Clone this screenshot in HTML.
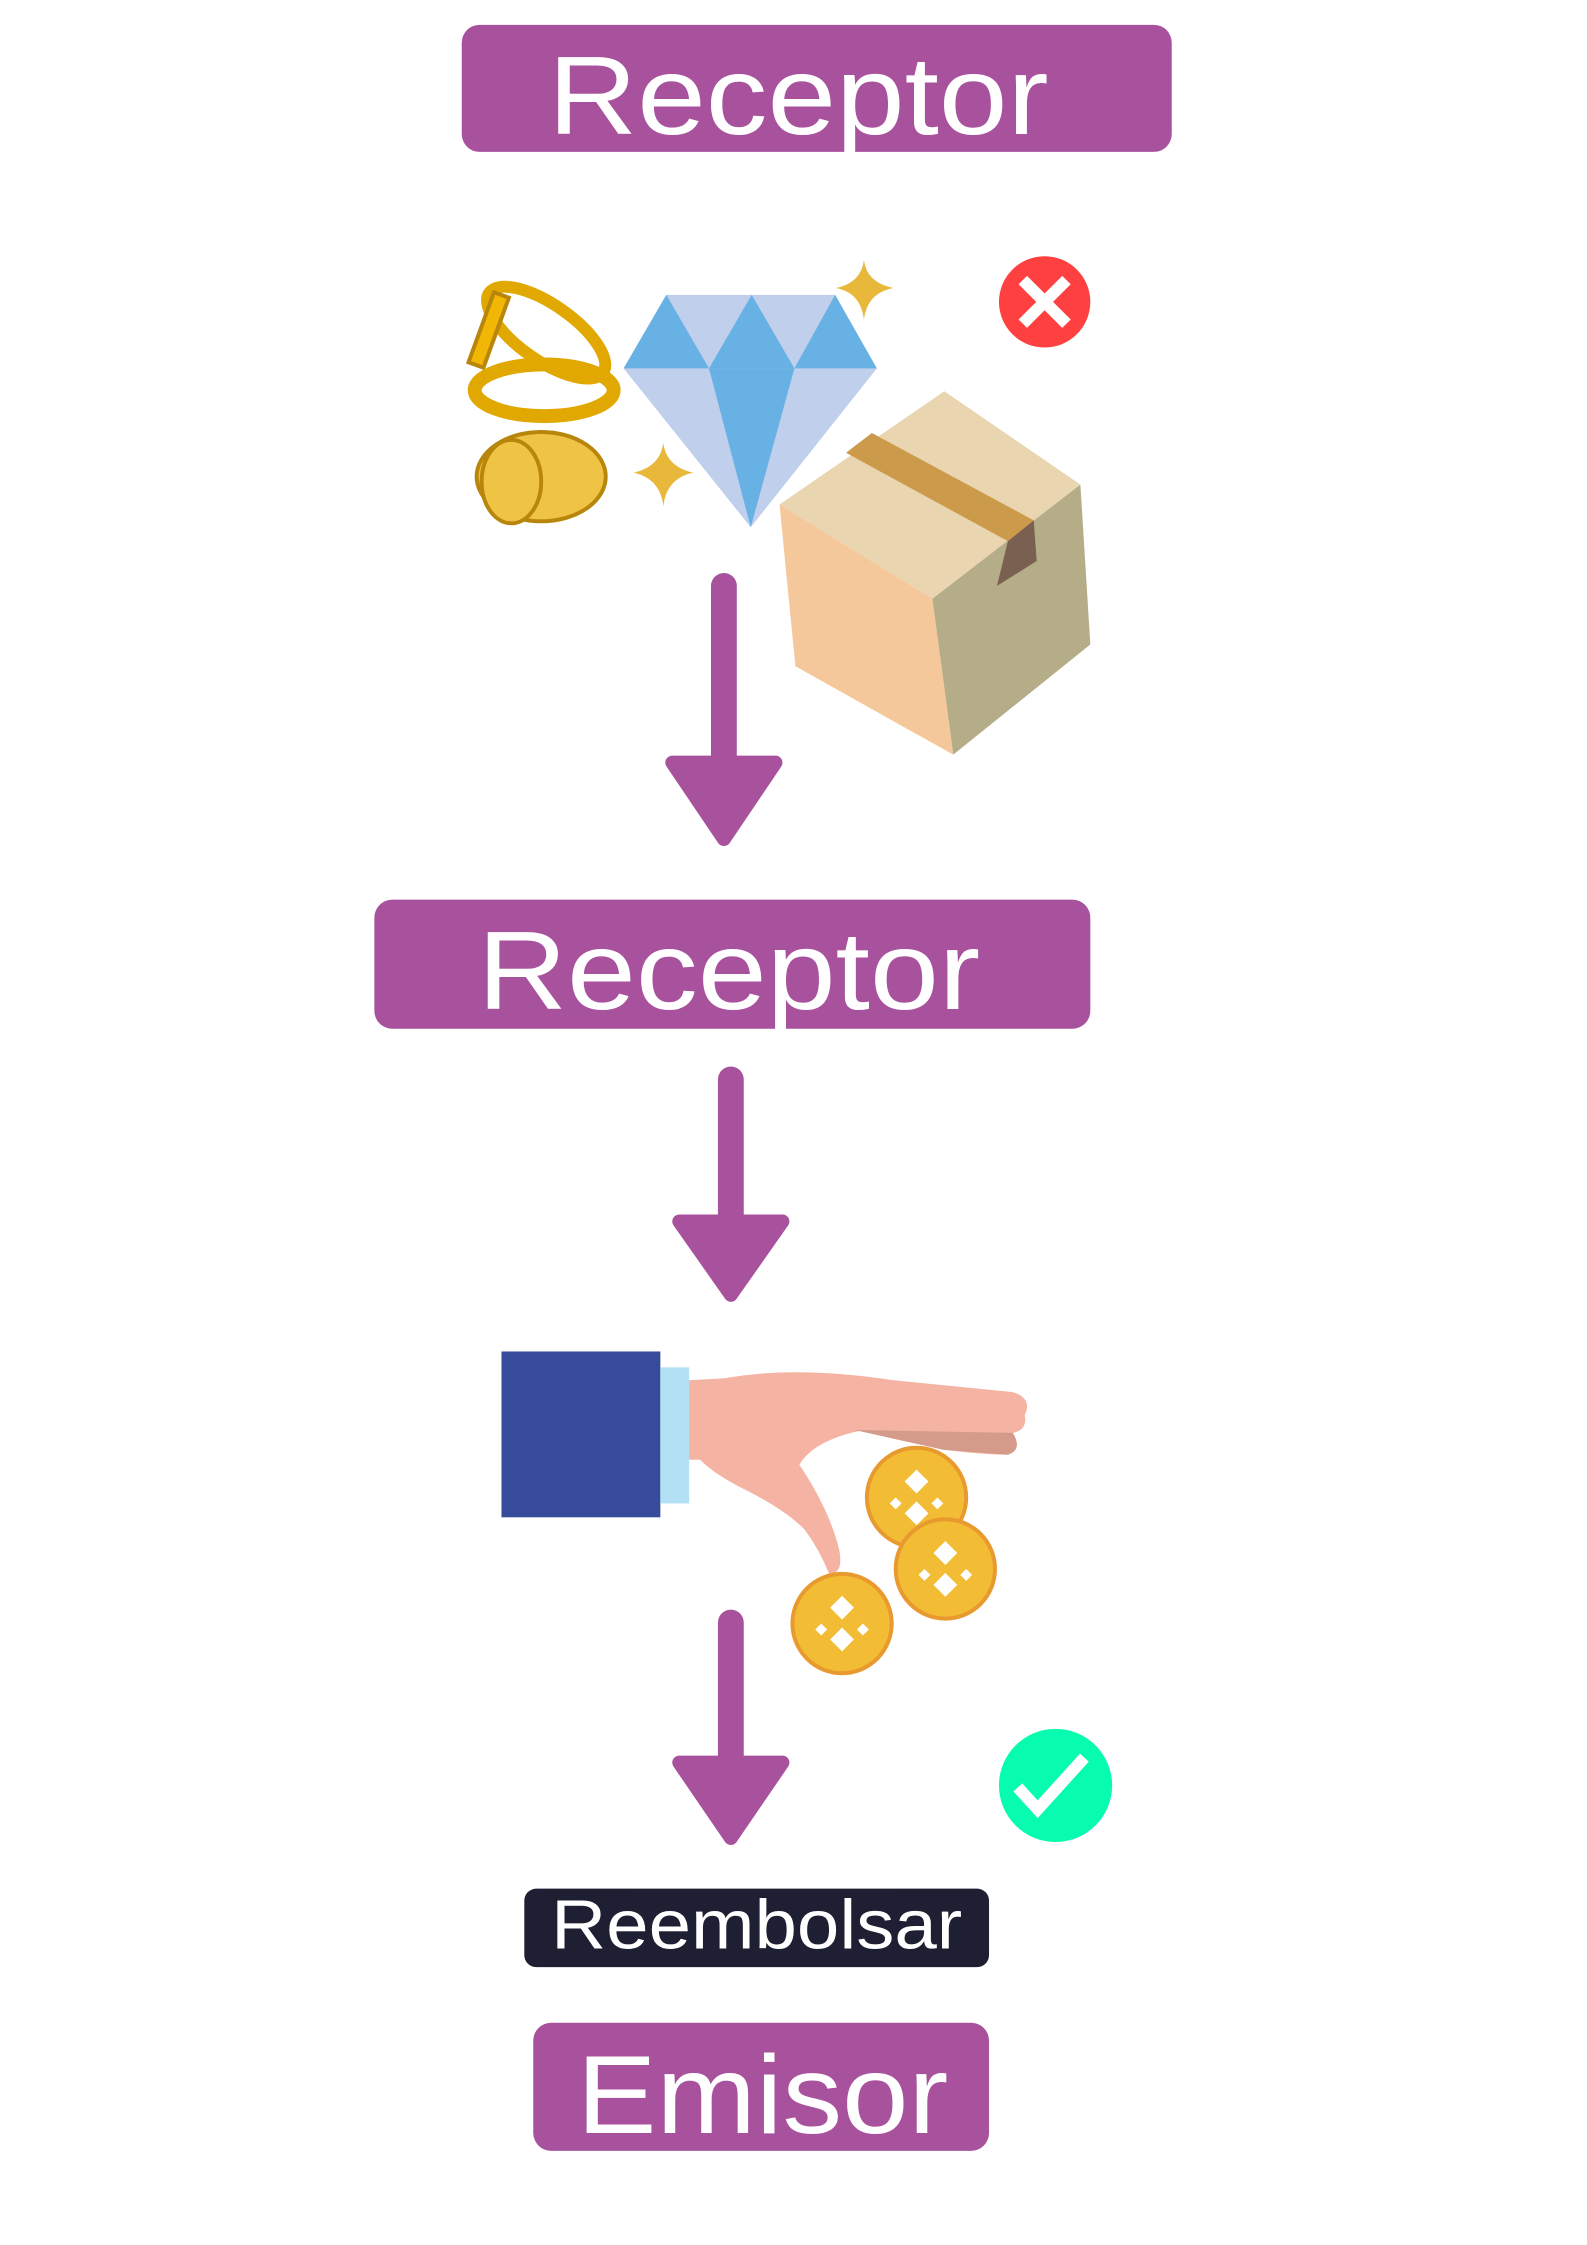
<!DOCTYPE html>
<html><head><meta charset="utf-8"><style>
html,body{margin:0;padding:0;background:#fff;}
svg{display:block;}
text{font-family:"Liberation Sans",sans-serif;}
</style></head><body>
<svg width="1587" height="2245" viewBox="0 0 1587 2245" xmlns="http://www.w3.org/2000/svg">
<g transform="scale(0.993)">
<!-- Box 1 -->
<rect x="465" y="25" width="715" height="128" rx="18" fill="#a8529e"/>
<text x="804" y="135" font-size="112" fill="#fff" text-anchor="middle" textLength="504" lengthAdjust="spacingAndGlyphs">Receptor</text>

<!-- rings -->
<g fill="#f2b705" stroke="#b8860b" stroke-width="4">
<ellipse cx="550" cy="335" rx="70" ry="28" transform="rotate(35 550 335)" fill="none" stroke="#e0a800" stroke-width="12"/>
<rect x="485" y="295" width="16" height="75" transform="rotate(20 493 330)"/>
<ellipse cx="548" cy="393" rx="70" ry="26" fill="none" stroke="#e0a800" stroke-width="14"/>
<ellipse cx="545" cy="480" rx="65" ry="45" fill="#efc445"/>
<ellipse cx="515" cy="485" rx="30" ry="42" fill="#efc445"/>
</g>
<!-- sparkles -->
<path d="M870 262 Q873 285 900 290 Q873 295 870 322 Q867 295 842 290 Q867 285 870 262Z" fill="#e8b83a"/>
<path d="M668 446 Q671 470 698 476 Q671 482 668 510 Q665 482 638 476 Q665 470 668 446Z" fill="#e8b83a"/>
<!-- diamond -->
<polygon points="671,297 841,297 883,371 756,531 628,371" fill="#bfcfec"/>
<polygon points="671,297 714,371 628,371" fill="#68b1e4"/>
<polygon points="757,297 714,371 800,371" fill="#68b1e4"/>
<polygon points="841,297 800,371 883,371" fill="#68b1e4"/>
<polygon points="714,371 800,371 756,531" fill="#68b1e4"/>
<!-- x circle -->
<circle cx="1052" cy="304" r="46" fill="#ff4040"/>
<path d="M1030 282 L1074 326 M1074 282 L1030 326" stroke="#fff" stroke-width="12"/>
<!-- box -->
<polygon points="951,394 1088,488 939,603 785,508" fill="#e9d5b0"/>
<polygon points="785,508 939,603 960,760 801,671" fill="#f5c89b"/>
<polygon points="939,603 1088,488 1098,649 960,760" fill="#b5ac88"/>
<polygon points="852,456 878,436 1041,524 1015,545" fill="#cc9a4b"/>
<polygon points="1015,545 1041,524 1044,565 1004,590" fill="#7a6050"/>

<!-- arrows -->
<g fill="#a8529e" stroke="#a8529e" stroke-linejoin="round" stroke-linecap="round">
<line x1="729" y1="590" x2="729" y2="770" stroke-width="26"/>
<polygon points="677,768 781,768 729,845" stroke-width="14"/>
<line x1="736" y1="1087" x2="736" y2="1230" stroke-width="26"/>
<polygon points="684,1230 788,1230 736,1304" stroke-width="14"/>
<line x1="736" y1="1634" x2="736" y2="1775" stroke-width="26"/>
<polygon points="684,1775 788,1775 736,1851" stroke-width="14"/>
</g>

<!-- Box 2 -->
<rect x="377" y="906" width="721" height="130" rx="18" fill="#a8529e"/>
<text x="734" y="1016" font-size="112" fill="#fff" text-anchor="middle" textLength="506" lengthAdjust="spacingAndGlyphs">Receptor</text>

<!-- hand -->
<rect x="505" y="1361" width="160" height="167" fill="#364c9b"/>
<rect x="665" y="1377" width="29" height="137" fill="#b3e0f5"/>
<path d="M694 1390 L730 1388 Q800 1375 900 1390 L1020 1402 Q1040 1408 1032 1425 Q1035 1440 1020 1443 Q1030 1460 1015 1465 Q990 1465 950 1460 L870 1440 Q820 1450 805 1475 Q835 1520 845 1560 Q850 1585 835 1585 Q825 1560 810 1540 Q790 1520 750 1500 Q720 1485 705 1470 L694 1470Z" fill="#f5b3a3"/>
<path d="M860 1440 L1020 1443 Q1030 1460 1015 1465 L950 1460Z" fill="#d49a8a"/>
<g>
<circle cx="923" cy="1508" r="50" fill="#f2bc35" stroke="#e99a2f" stroke-width="4"/>
<circle cx="952" cy="1580" r="50" fill="#f2bc35" stroke="#e99a2f" stroke-width="4"/>
<circle cx="848" cy="1635" r="50" fill="#f2bc35" stroke="#e99a2f" stroke-width="4"/>
<g fill="#fff">
<path d="M923 1480 l12 12 l-12 12 l-12 -12z M923 1512 l12 12 l-12 12 l-12 -12z M902 1508 l6 6 l-6 6 l-6 -6z M944 1508 l6 6 l-6 6 l-6 -6z"/>
<path d="M952 1552 l12 12 l-12 12 l-12 -12z M952 1584 l12 12 l-12 12 l-12 -12z M931 1580 l6 6 l-6 6 l-6 -6z M973 1580 l6 6 l-6 6 l-6 -6z"/>
<path d="M848 1607 l12 12 l-12 12 l-12 -12z M848 1639 l12 12 l-12 12 l-12 -12z M827 1635 l6 6 l-6 6 l-6 -6z M869 1635 l6 6 l-6 6 l-6 -6z"/>
</g>
</g>

<!-- check -->
<circle cx="1063" cy="1798" r="57" fill="#07fcb0"/>
<path d="M1025 1800 L1045 1822 L1092 1770" stroke="#fff" stroke-width="12" fill="none"/>

<!-- Reembolsar -->
<rect x="528" y="1902" width="468" height="79" rx="12" fill="#1f1f33"/>
<text x="762" y="1962" font-size="70" fill="#fff" text-anchor="middle" textLength="414" lengthAdjust="spacingAndGlyphs">Reembolsar</text>

<!-- Emisor -->
<rect x="537" y="2037" width="459" height="129" rx="18" fill="#a8529e"/>
<text x="768" y="2148" font-size="112" fill="#fff" text-anchor="middle" textLength="374" lengthAdjust="spacingAndGlyphs">Emisor</text>
</g>
</svg>
</body></html>
